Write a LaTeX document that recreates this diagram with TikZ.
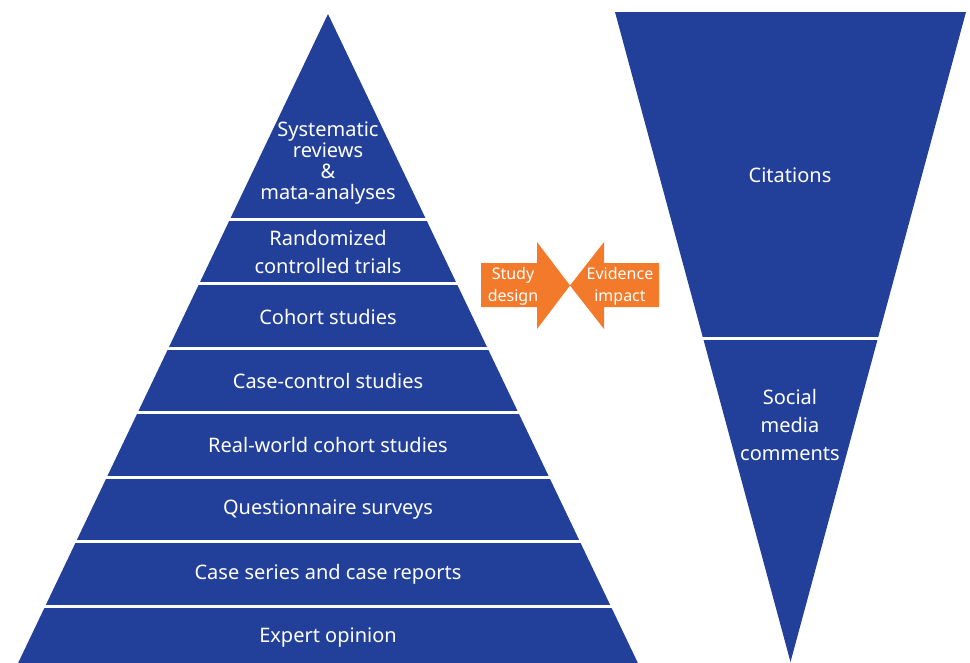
\documentclass[tikz,border=0pt]{standalone}
\usepackage{fontspec}
\setmainfont{Noto Sans}
\definecolor{pyblue}{RGB}{34,64,153}
\definecolor{arrorange}{RGB}{243,122,42}
\tikzset{
  lbl/.style={text=white, font=\fontsize{20}{28}\selectfont, align=center, inner sep=0pt, yshift=-1pt},
  tightlbl/.style={lbl, font=\fontsize{20}{21}\selectfont},
  albl/.style={text=white, font=\fontsize{16}{22}\selectfont, align=center, inner sep=0pt, yshift=-1pt},
  sep/.style={white, line width=3pt},
}
\begin{document}
\begin{tikzpicture}[x=1pt,y=-1pt]
\useasboundingbox (0,0) rectangle (970,662);
\begin{scope}
\clip (0,0) rectangle (970,662);
% pyramid
\fill[pyblue] (328,14) -- (10,680) -- (646,680) -- cycle;
\foreach \yy in {219,283.5,348,412.5,477,541.5,606}
  \draw[sep] (0,\yy) -- (660,\yy);
% inverted triangle
\fill[pyblue] (615,12) -- (966,12) -- (790.5,662) -- cycle;
\draw[sep] (690,338.5) -- (890,338.5);
\end{scope}
% arrows
\fill[arrorange] (481,263) -- (537,263) -- (537,242) -- (570,285.5) -- (537,329) -- (537,307) -- (481,307) -- cycle;
\fill[arrorange] (659,263) -- (604,263) -- (604,242) -- (570,285.5) -- (604,329) -- (604,307) -- (659,307) -- cycle;
% labels
\node[tightlbl] (sr) at (328,162) {Systematic\\reviews\\\&\\mata-analyses};
\node[lbl] (rct) at (328,251) {Randomized\\controlled trials};
\node[lbl] (coh) at (328,316) {Cohort studies};
\node[lbl] (cc) at (328,380) {Case-control studies};
\node[lbl] (rw) at (328,444) {Real-world cohort studies};
\node[lbl] (qs) at (328,509) {Questionnaire surveys};
\node[lbl] (cs) at (328,573) {Case series and case reports};
\node[lbl] (eo) at (328,637) {Expert opinion};
\node[lbl] (cit) at (790,174) {Citations};
\node[lbl] (smc) at (790,424) {Social\\media\\comments};
\node[albl] (sd) at (513,285) {Study\\design};
\node[albl] (ei) at (620,285) {Evidence\\impact};
\end{tikzpicture}
\end{document}
